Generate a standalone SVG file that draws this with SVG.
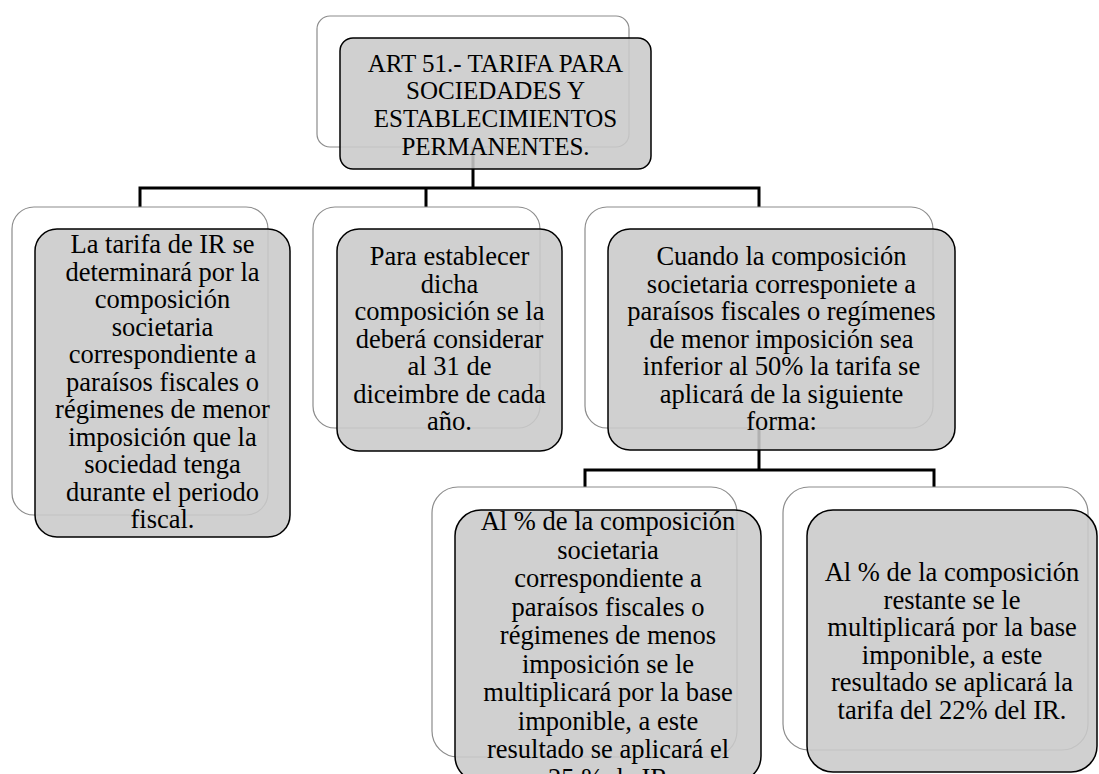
<svg xmlns="http://www.w3.org/2000/svg" width="1099" height="774" viewBox="0 0 1099 774">
<style>
.back{fill:#ffffff;stroke:#8c8c8c;stroke-width:1.2}
.front{fill:#c9c9c9;fill-opacity:0.88;stroke:#000000;stroke-width:1.5}
.conn{fill:none;stroke:#000000;stroke-width:3}
text{font-family:"Liberation Serif","Times New Roman",serif;font-size:26.5px;fill:#000000;text-anchor:middle}
.top{font-size:25px}
</style>
<rect x="0" y="0" width="1099" height="774" fill="#ffffff"/>
<g id="connectors">
<path class="conn" d="M473,147 V188 M140,207 V188 H759 V207 M426,188 V207"/>
<path class="conn" d="M759,428 V470 M585,487 V470 H934 V487"/>
</g>
<g id="node-top">
<rect class="back" x="317" y="16" width="312" height="131" rx="13"/>
<rect class="front" x="340" y="38" width="311" height="131" rx="13"/>
<text class="top"><tspan x="495.5" y="71.5">ART 51.- TARIFA PARA</tspan><tspan x="495.5" y="99.3">SOCIEDADES Y</tspan><tspan x="495.5" y="127.1">ESTABLECIMIENTOS</tspan><tspan x="495.5" y="154.9">PERMANENTES.</tspan></text>
</g>
<g id="node-left">
<rect class="back" x="12" y="207" width="256" height="308" rx="22"/>
<rect class="front" x="35" y="229" width="255" height="308" rx="22"/>
<text><tspan x="162.5" y="253">La tarifa de IR se</tspan><tspan x="162.5" y="280.5">determinará por la</tspan><tspan x="162.5" y="308">composición</tspan><tspan x="162.5" y="335.5">societaria</tspan><tspan x="162.5" y="363">correspondiente a</tspan><tspan x="162.5" y="390.5">paraísos fiscales o</tspan><tspan x="162.5" y="418">régimenes de menor</tspan><tspan x="162.5" y="445.5">imposición que la</tspan><tspan x="162.5" y="473">sociedad tenga</tspan><tspan x="162.5" y="500.5">durante el periodo</tspan><tspan x="162.5" y="528">fiscal.</tspan></text>
</g>
<g id="node-middle">
<rect class="back" x="313" y="207" width="227" height="221" rx="22"/>
<rect class="front" x="337" y="229" width="225" height="222" rx="22"/>
<text><tspan x="449.5" y="265">Para establecer</tspan><tspan x="449.5" y="292.5">dicha</tspan><tspan x="449.5" y="320">composición se la</tspan><tspan x="449.5" y="347.5">deberá considerar</tspan><tspan x="449.5" y="375">al 31 de</tspan><tspan x="449.5" y="402.5">diceimbre de cada</tspan><tspan x="449.5" y="430">año.</tspan></text>
</g>
<g id="node-right">
<rect class="back" x="585" y="207" width="348" height="221" rx="22"/>
<rect class="front" x="608" y="229" width="347" height="221" rx="22"/>
<text><tspan x="781.5" y="265">Cuando la composición</tspan><tspan x="781.5" y="292.5">societaria corresponiete a</tspan><tspan x="781.5" y="320">paraísos fiscales o regímenes</tspan><tspan x="781.5" y="347.5">de menor imposición sea</tspan><tspan x="781.5" y="375">inferior al 50% la tarifa se</tspan><tspan x="781.5" y="402.5">aplicará de la siguiente</tspan><tspan x="781.5" y="430">forma:</tspan></text>
</g>
<g id="node-bottom-left">
<rect class="back" x="432" y="487" width="305" height="270" rx="26"/>
<rect class="front" x="455" y="510" width="306" height="272" rx="26"/>
<text><tspan x="608" y="530">Al % de la composición</tspan><tspan x="608" y="558.5">societaria</tspan><tspan x="608" y="587">correspondiente a</tspan><tspan x="608" y="615.5">paraísos fiscales o</tspan><tspan x="608" y="644">régimenes de menos</tspan><tspan x="608" y="672.5">imposición se le</tspan><tspan x="608" y="701">multiplicará por la base</tspan><tspan x="608" y="729.5">imponible, a este</tspan><tspan x="608" y="758">resultado se aplicará el</tspan><tspan x="608" y="786.5">25 % de IR</tspan></text>
</g>
<g id="node-bottom-right">
<rect class="back" x="783" y="487" width="305" height="263" rx="26"/>
<rect class="front" x="807" y="510" width="290" height="262" rx="26"/>
<text><tspan x="952" y="581">Al % de la composición</tspan><tspan x="952" y="608.5">restante se le</tspan><tspan x="952" y="636">multiplicará por la base</tspan><tspan x="952" y="663.5">imponible, a este</tspan><tspan x="952" y="691">resultado se aplicará la</tspan><tspan x="952" y="718.5">tarifa del 22% del IR.</tspan></text>
</g>
</svg>
